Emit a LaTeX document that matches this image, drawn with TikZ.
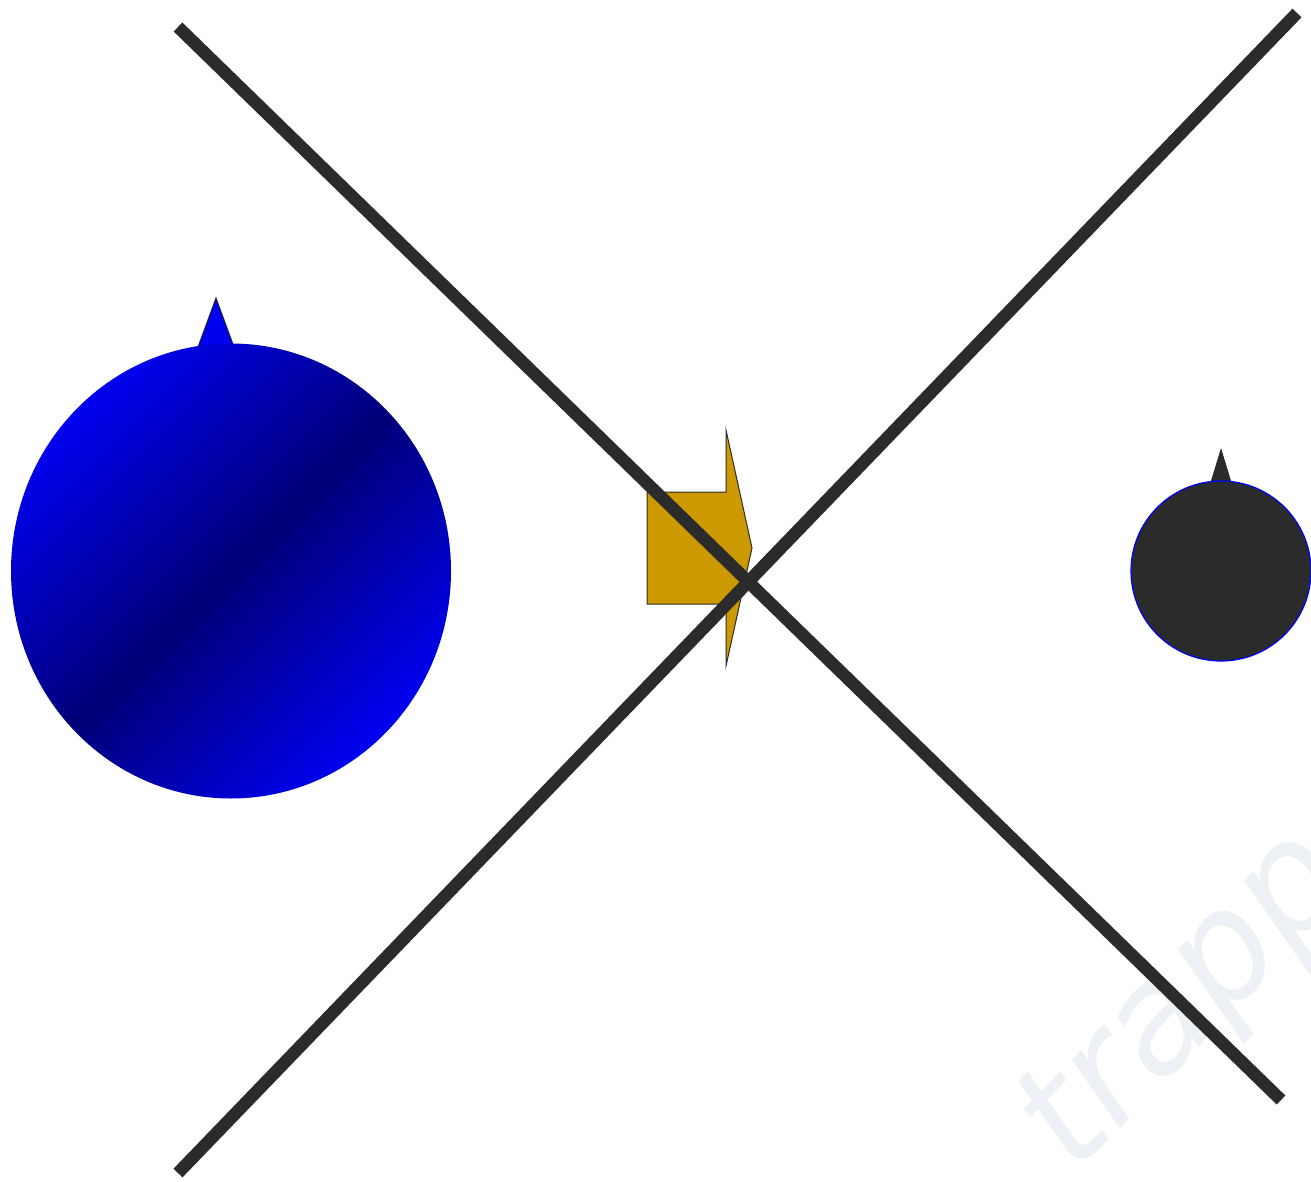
\documentclass[tikz,border=0pt]{standalone}
\usepackage{fontspec}
\usetikzlibrary{shapes.geometric}
\definecolor{ink}{HTML}{2B2B2B}
\definecolor{gold}{HTML}{CC9900}
\definecolor{navyd}{HTML}{000078}
\definecolor{brightb}{HTML}{0000F0}
\definecolor{wm}{HTML}{EDF0F5}
\newfontfamily\wmfont{DejaVu Sans}
\tikzset{
  bar/.style={draw=ink, line width=12.5pt, line cap=butt},
  tip/.style={draw=ink, line width=1pt, line join=miter},
}
\begin{document}
\begin{tikzpicture}[x=1pt,y=-1pt]
\useasboundingbox (0,0) rectangle (1311,1182);
% watermark
\node[text=wm, rotate=46, anchor=base west, inner sep=0pt, font=\wmfont\itshape\fontsize{150}{150}\selectfont] (wmark) at (1075,1175) {trapp};
% blue ball with tip
\path[tip, fill=brightb] (198,347) -- (216,298) -- (234,347) -- cycle;
\node[ellipse, minimum width=440pt, minimum height=455pt, inner sep=0pt,
      shading=axis, top color=brightb, bottom color=brightb, middle color=navyd, shading angle=45] (ball) at (231,571) {};
% dark ball with tip
\path[fill=ink] (1210,484) -- (1221,448) -- (1232,484) -- cycle;
\node[circle, minimum size=180pt, inner sep=0pt, fill=ink, draw=blue, line width=1.2pt] (dark) at (1221,571) {};
% gold arrow
\path[tip, fill=gold] (647,492) -- (726,492) -- (726,430) -- (752,548) -- (726,666) -- (726,604) -- (647,604) -- cycle;
% crossing bars
\coordinate (a1) at (178,27);
\coordinate (a2) at (1281,1100);
\coordinate (b1) at (178,1173);
\coordinate (b2) at (1297,13);
\draw[bar] (a1) -- (a2);
\draw[bar] (b1) -- (b2);
\end{tikzpicture}
\end{document}
